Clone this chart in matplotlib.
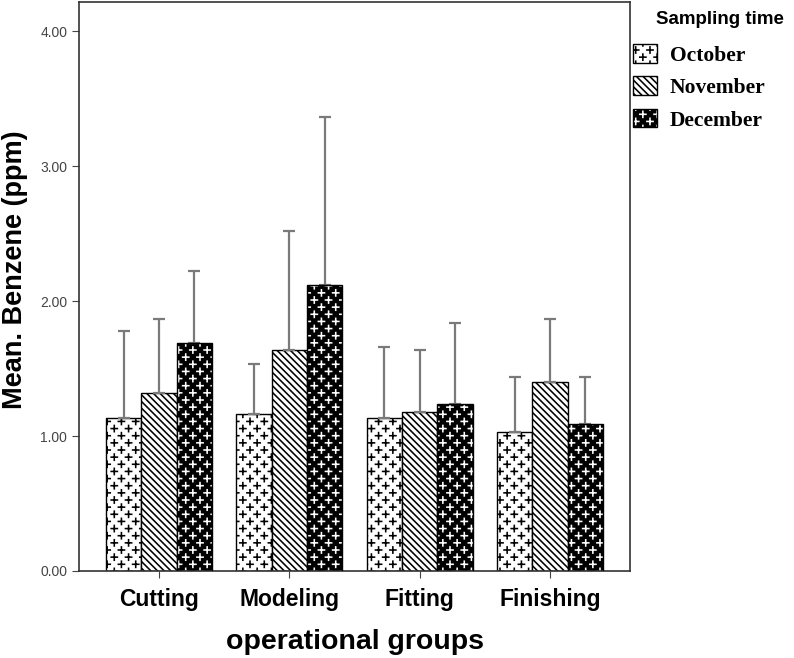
import warnings
import numpy as np
import matplotlib
matplotlib.use('Agg')
import matplotlib.pyplot as plt
import matplotlib.hatch as mhatch
from matplotlib.path import Path
from matplotlib.patches import Patch
from matplotlib.legend_handler import HandlerTuple

warnings.filterwarnings('ignore')

groups = ['Cutting', 'Modeling', 'Fitting', 'Finishing']
months = ['October', 'November', 'December']
october = [1.13, 1.16, 1.13, 1.03]
november = [1.32, 1.64, 1.18, 1.40]
december = [1.69, 2.12, 1.24, 1.09]
# upper end of the error bars
october_top = [1.78, 1.53, 1.66, 1.44]
november_top = [1.87, 2.52, 1.64, 1.87]
december_top = [2.22, 3.36, 1.84, 1.44]
yticks = [0, 1, 2, 3, 4]


# small "+" signs in a staggered lattice, like the SPSS pattern
class PlusHatch(mhatch.HatchPatternBase):
    def __init__(self, hatch, density):
        n = hatch.count('p') * 7
        verts = []
        if n > 0:
            a = 0.031
            centers = []
            for i in range(n + 1):
                for j in range(n + 1):
                    centers.append((i / n, j / n))
            for i in range(n):
                for j in range(n):
                    centers.append(((i + 0.5) / n, (j + 0.5) / n))
            for cx, cy in centers:
                verts += [(cx - a, cy), (cx + a, cy), (cx, cy - a), (cx, cy + a)]
        self.verts = np.array(verts).reshape(-1, 2)
        self.num_vertices = len(self.verts)

    def set_vertices_and_codes(self, vertices, codes):
        vertices[:] = self.verts
        codes[0::2] = Path.MOVETO
        codes[1::2] = Path.LINETO


mhatch._hatch_types.append(PlusHatch)
plt.rcParams['hatch.linewidth'] = 1.15

fig = plt.figure(figsize=(7.94, 6.58), dpi=100)
ax = fig.add_axes([79 / 794, 1 - 571 / 658, 551 / 794, 569 / 658])

x = np.arange(len(groups))
w = 0.271
err_kw = dict(ecolor='#7a7a7a', elinewidth=1.6, capsize=4, capthick=1.6)

oct_err = [np.zeros(4), np.array(october_top) - np.array(october)]
nov_err = [np.zeros(4), np.array(november_top) - np.array(november)]
dec_err = [np.zeros(4), np.array(december_top) - np.array(december)]

ax.bar(x - w, october, w, color='white', edgecolor='black', hatch='p',
       linewidth=1.0, yerr=oct_err, error_kw=err_kw, zorder=2)
ax.bar(x, november, w, color='white', edgecolor='black', hatch='\\\\\\\\\\',
       linewidth=1.0, yerr=nov_err, error_kw=err_kw, zorder=2)
ax.bar(x + w, december, w, color='black', edgecolor='white', hatch='p',
       linewidth=0, yerr=dec_err, error_kw=err_kw, zorder=2)
ax.bar(x + w, december, w, fill=False, edgecolor='black', linewidth=1.0, zorder=3)

ax.set_xlim(-0.613, 3.614)
ax.set_ylim(0, 4.215)
ax.set_yticks(yticks)
ax.set_yticklabels(['%.2f' % v for v in yticks], fontsize=10, color='#444444',
                   family='Liberation Sans')
ax.set_xticks(x)
ax.set_xticklabels(groups, fontsize=16.5, fontweight='bold', family='Liberation Sans')
ax.tick_params(axis='both', length=5, color='#444444')
ax.tick_params(axis='x', pad=7)
for s in ax.spines.values():
    s.set_color('#333333')
    s.set_linewidth(1.2)

ax.set_ylabel('Mean. Benzene (ppm)', fontsize=19.5, fontweight='bold',
              family='Liberation Sans')
ax.yaxis.set_label_coords(-0.093, 0.53)
ax.set_xlabel('operational groups', fontsize=20.5, fontweight='bold',
              family='Liberation Sans')
ax.xaxis.set_label_coords(0.5, -0.102)

h_oct = Patch(facecolor='white', edgecolor='black', hatch='p', linewidth=1.0)
h_nov = Patch(facecolor='white', edgecolor='black', hatch='\\\\\\\\\\', linewidth=1.0)
h_dec = (Patch(facecolor='black', edgecolor='white', hatch='p', linewidth=0),
         Patch(fill=False, edgecolor='black', linewidth=1.0))
fig.text(656 / 794, 1 - 20 / 658, 'Sampling time', fontsize=13.5, fontweight='bold',
         family='Liberation Sans', va='center')
fig.legend([h_oct, h_nov, h_dec], months, loc='upper left',
           bbox_to_anchor=(633 / 794, 1 - 44 / 658), frameon=False,
           borderpad=0, borderaxespad=0,
           handler_map={tuple: HandlerTuple(ndivide=1)},
           prop={'family': 'Liberation Serif', 'weight': 'bold', 'size': 15.5},
           handlelength=1.1, handleheight=0.95, labelspacing=0.5, handletextpad=0.6)

fig.savefig('out.png', dpi=100)
